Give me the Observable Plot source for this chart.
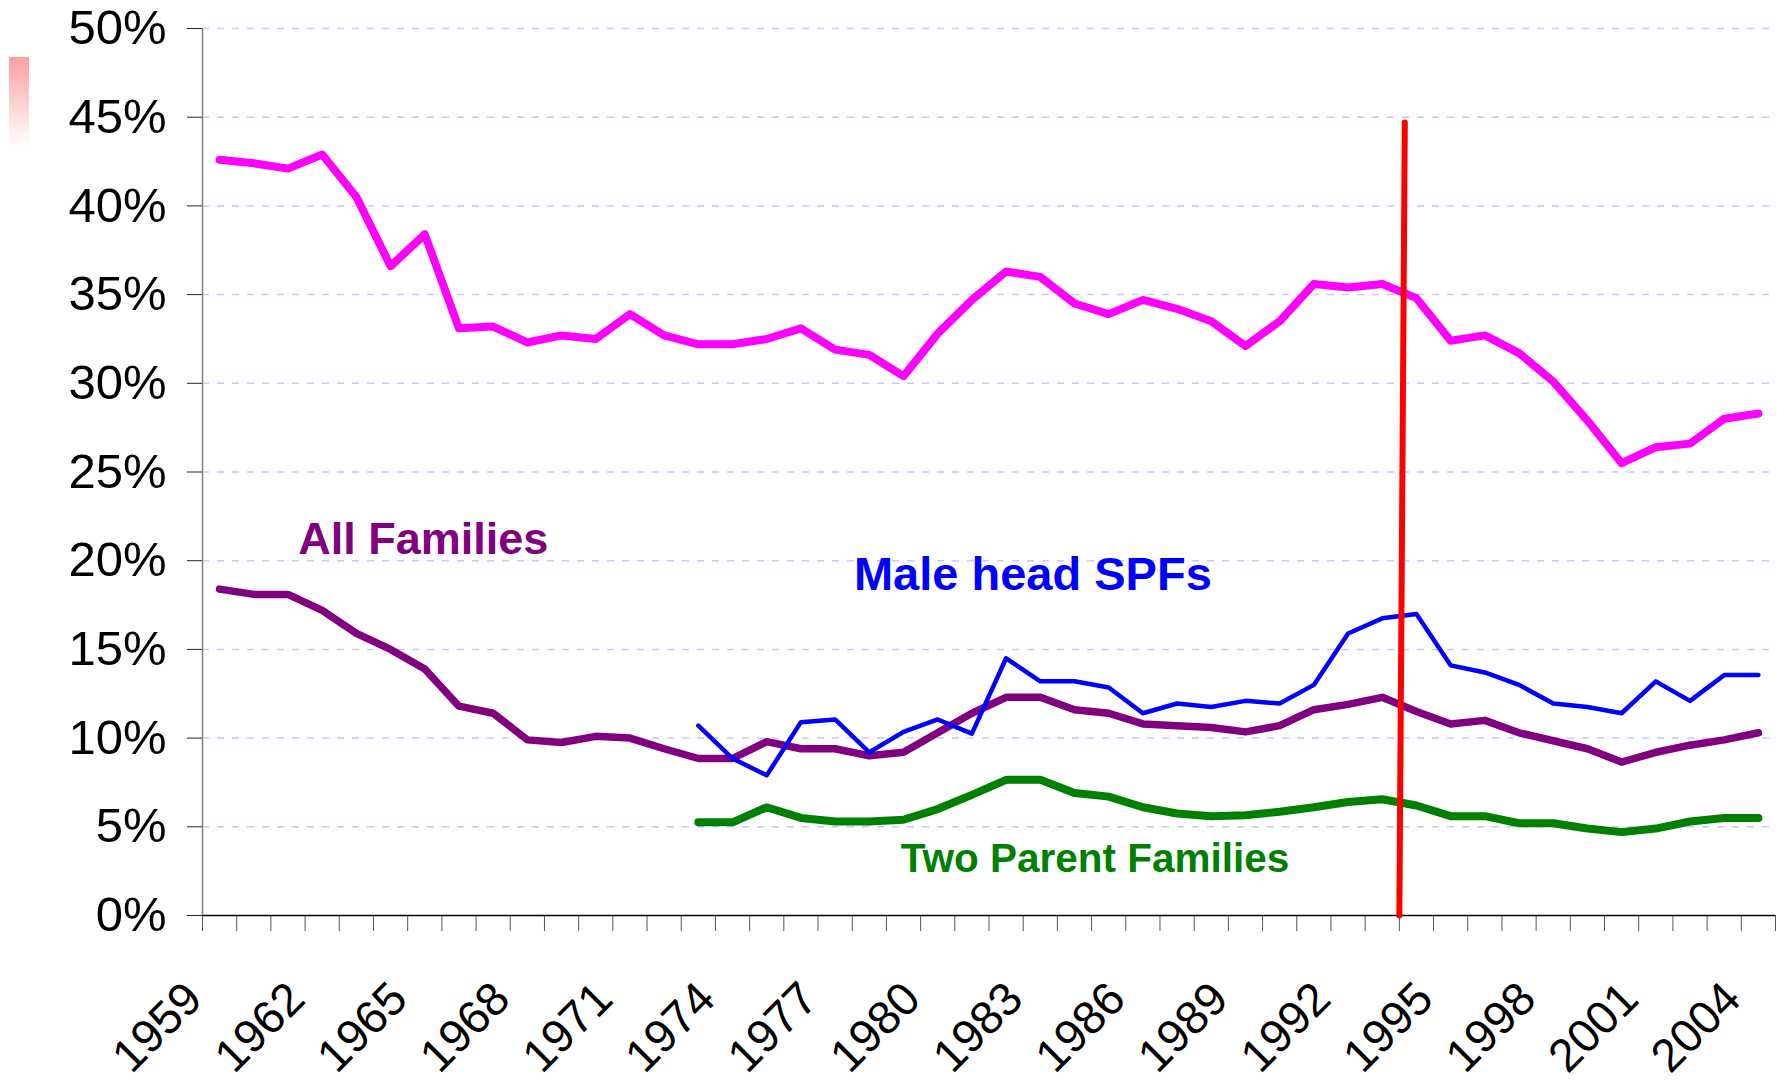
<!DOCTYPE html>
<html>
<head>
<meta charset="utf-8">
<script src="https://cdn.jsdelivr.net/npm/d3@7"></script>
<script src="https://cdn.jsdelivr.net/npm/@observablehq/plot@0.6"></script>
<style>
  html, body { margin: 0; padding: 0; background: #fff; overflow: hidden; }
  #wrap { position: relative; width: 1777px; height: 1086px; }
  #swatch { position: absolute; left: 9px; top: 57px; width: 20px; height: 89px;
            background: linear-gradient(to bottom, #fb9f9f, #ffffff); }
  svg { display: block; }
</style>
</head>
<body>
<div id="wrap"><div id="swatch"></div></div>
<script>
const years = [1959,1960,1961,1962,1963,1964,1965,1966,1967,1968,1969,1970,1971,1972,1973,1974,1975,1976,1977,1978,1979,1980,1981,1982,1983,1984,1985,1986,1987,1988,1989,1990,1991,1992,1993,1994,1995,1996,1997,1998,1999,2000,2001,2002,2003,2004];
const labelYears = [1959,1962,1965,1968,1971,1974,1977,1980,1983,1986,1989,1992,1995,1998,2001,2004];
const yTicks = [0,5,10,15,20,25,30,35,40,45,50];

// Female head SPFs (magenta, unlabelled)
const femaleHead = [42.6,42.4,42.1,42.9,40.5,36.6,38.4,33.1,33.2,32.3,32.7,32.5,
  33.9,32.7,32.2,32.2,32.5,33.1,31.9,31.6,30.4,32.8,
  34.7,36.3,36.0,34.5,33.9,34.7,34.2,33.5,32.1,33.5,
  35.6,35.4,35.6,34.8,32.4,32.7,31.7,30.1,27.9,25.5,
  26.4,26.6,28.0,28.3];
// All Families (purple)
const allFamilies = [18.4,18.1,18.1,17.2,15.9,15.0,13.9,11.8,11.4,9.9,9.75,10.1,
  10.0,9.4,8.85,8.85,9.8,9.4,9.4,9.0,9.2,10.3,
  11.4,12.3,12.3,11.6,11.4,10.8,10.7,10.6,10.35,10.7,
  11.6,11.9,12.3,11.5,10.8,11.0,10.3,9.85,9.4,8.65,
  9.2,9.6,9.9,10.3];
// Male head SPFs (blue)
const maleHead = [null,null,null,null,null,null,null,null,null,null,null,null,null,null,
  10.7,8.85,7.9,10.9,11.05,9.2,10.35,11.05,
  10.25,14.5,13.2,13.2,12.85,11.4,11.95,11.75,12.1,11.95,
  13.0,15.9,16.75,17.0,14.1,13.7,13.0,11.95,11.75,11.4,
  13.2,12.1,13.55,13.55];
// Two Parent Families (green)
const twoParent = [null,null,null,null,null,null,null,null,null,null,null,null,null,null,
  5.25,5.25,6.1,5.5,5.3,5.3,5.4,6.0,
  6.8,7.65,7.65,6.9,6.7,6.1,5.75,5.6,5.65,5.85,
  6.1,6.4,6.55,6.2,5.6,5.6,5.2,5.2,4.9,4.7,
  4.9,5.3,5.5,5.5];
// Vertical marker line (from axis at the 1993/1994 boundary up to ~44.7%)
const markerLine = [{x1: 1993.5, y1: 0, x2: 1993.66, y2: 44.7}];

const toRows = (vals) => years.map((year, i) => ({year, value: vals[i]})).filter(d => d.value != null);
const boundaries = years.map(y => y - 0.5).concat([years[years.length - 1] + 0.5]);

const font = "'Liberation Sans', Arial, sans-serif";

const chart = Plot.plot({
  width: 1777,
  height: 1086,
  marginTop: 28,
  marginBottom: 171,
  marginLeft: 202,
  marginRight: 2,
  x: {domain: [boundaries[0], boundaries[boundaries.length - 1]], axis: null},
  y: {domain: [0, 50], axis: null},
  style: {fontFamily: font, background: "transparent", color: "#000", overflow: "visible"},
  marks: [
    Plot.gridY(yTicks.filter(d => d > 0), {stroke: "#c8c8ff", strokeOpacity: 1, strokeWidth: 1.5, strokeDasharray: "7,8"}),
    Plot.axisY({ticks: yTicks, tickFormat: d => d + "%", tickSize: 15, tickPadding: 21, fontSize: 49, stroke: "#222"}),
    Plot.ruleX([boundaries[0]], {stroke: "#808080", strokeWidth: 1.5}),
    Plot.axisX({ticks: boundaries, tickSize: 16, tickFormat: () => "", stroke: "#555"}),
    Plot.axisX({ticks: labelYears, tickFormat: d => String(d), tickSize: 0, tickPadding: 0, tickRotate: -45, textAnchor: "end", lineAnchor: "bottom", fontSize: 46.5, dx: -15, dy: 86}),
    Plot.ruleY([0], {stroke: "#000", strokeWidth: 1.5}),
    Plot.line(toRows(femaleHead), {x: "year", y: "value", stroke: "#ff00ff", strokeWidth: 8}),
    Plot.line(toRows(allFamilies), {x: "year", y: "value", stroke: "#800080", strokeWidth: 7.5}),
    Plot.line(toRows(twoParent), {x: "year", y: "value", stroke: "#008000", strokeWidth: 8}),
    Plot.line(toRows(maleHead), {x: "year", y: "value", stroke: "#0000ff", strokeWidth: 4.5}),
    Plot.link(markerLine, {x1: "x1", y1: "y1", x2: "x2", y2: "y2", stroke: "#ff0000", strokeWidth: 6, strokeLinecap: "round"}),
    Plot.text(["All Families"], {x: 1961.3, y: 20.4, text: d => d, fill: "#800080", fontSize: 45, fontWeight: "bold", textAnchor: "start", lineAnchor: "bottom"}),
    Plot.text(["Male head SPFs"], {x: 1977.55, y: 18.35, text: d => d, fill: "#0000ff", fontSize: 47, fontWeight: "bold", textAnchor: "start", lineAnchor: "bottom"}),
    Plot.text(["Two Parent Families"], {x: 1978.92, y: 2.45, text: d => d, fill: "#008000", fontSize: 40.5, fontWeight: "bold", textAnchor: "start", lineAnchor: "bottom"})
  ]
});
document.getElementById("wrap").appendChild(chart);
</script>
</body>
</html>
